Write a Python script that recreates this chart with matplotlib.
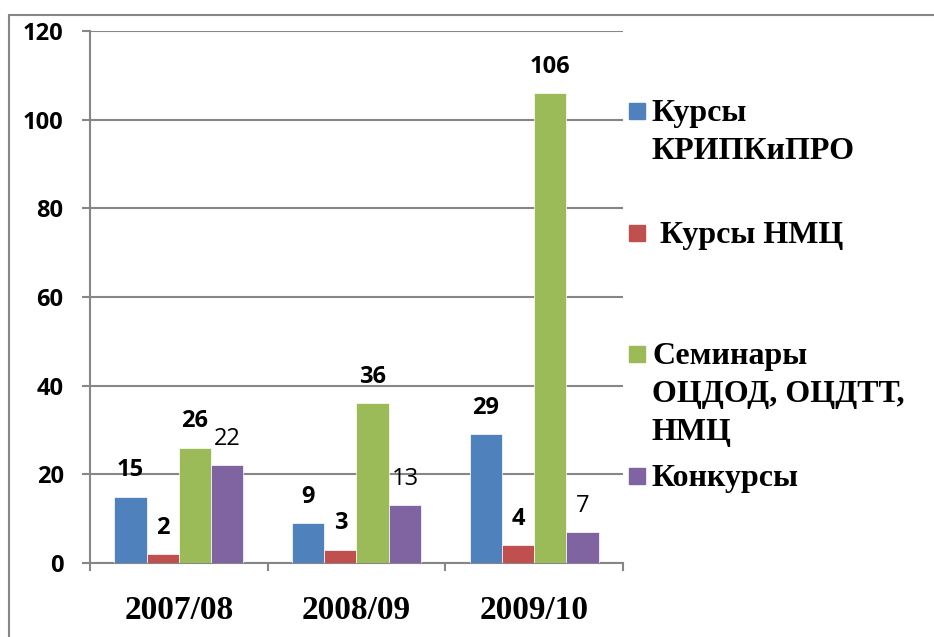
import matplotlib.pyplot as plt
from matplotlib.patches import Rectangle
import numpy as np

# данные
years = ['2007/08', '2008/09', '2009/10']
kursy_kripkipro = [15, 9, 29]
kursy_nmc = [2, 3, 4]
seminary = [26, 36, 106]
konkursy = [22, 13, 7]

series = [kursy_kripkipro, kursy_nmc, seminary, konkursy]
labels = ['Курсы\nКРИПКиПРО', ' Курсы НМЦ', 'Семинары\nОЦДОД, ОЦДТТ,\nНМЦ', 'Конкурсы']
colors = ['#4F81BD', '#C0504D', '#9BBB59', '#8064A2']
label_weights = ['bold', 'bold', 'bold', 'normal']
yticks = [0, 20, 40, 60, 80, 100, 120]

W, H = 934, 637
fig = plt.figure(figsize=(W / 100, H / 100), dpi=100)
ax = fig.add_axes([90 / W, 1 - 563 / H, (623 - 90) / W, (563 - 31) / H])

grey = '#868686'
x = np.arange(len(years))
bw = 1 / 5.5
for i, vals in enumerate(series):
    pos = x + (i - 1.5) * bw
    bars = ax.bar(pos, vals, bw, color=colors[i], edgecolor='white', linewidth=0.5, zorder=3)
    for b, v in zip(bars, vals):
        ax.annotate(str(v), (b.get_x() + b.get_width() / 2, v), xytext=(0, 19),
                    textcoords='offset points', ha='center', va='center',
                    fontsize=17, fontweight=label_weights[i], family='Open Sans')

ax.set_xlim(-0.5, 2.5)
ax.set_ylim(0, 120)
ax.set_yticks(yticks)
ax.set_yticklabels([str(t) for t in yticks], fontsize=17, fontweight='bold', family='Open Sans')
ax.yaxis.grid(True, color=grey, linewidth=1.5, zorder=0)
ax.tick_params(axis='y', length=6, width=1.5, color=grey, pad=13)

ax.set_xticks([-0.5, 0.5, 1.5, 2.5])
ax.set_xticklabels([])
ax.set_xticks(x, minor=True)
ax.set_xticklabels(years, minor=True, fontsize=24, fontweight='bold', family='Liberation Serif')
ax.tick_params(axis='x', which='major', length=6, width=1.5, color=grey)
ax.tick_params(axis='x', which='minor', length=0, pad=23)

for s in ['top', 'right']:
    ax.spines[s].set_visible(False)
for s in ['left', 'bottom']:
    ax.spines[s].set_color(grey)
    ax.spines[s].set_linewidth(1.5)

# легенда
leg_y = [111, 233, 354, 476]
for i, lab in enumerate(labels):
    fig.patches.append(Rectangle((629 / W, 1 - (leg_y[i] + 8) / H), 16 / W, 16 / H,
                                 transform=fig.transFigure, color=colors[i]))
    fig.text(652 / W, 1 - (leg_y[i] - 12) / H, lab, ha='left', va='top',
             fontsize=23, fontweight='bold', family='Liberation Serif', linespacing=1.42)

# рамка
fig.patches.append(Rectangle((9 / W, -0.1), 1, 1 - 15 / H + 0.1, transform=fig.transFigure,
                             fill=False, edgecolor=grey, linewidth=1.5))

fig.savefig('out.png', dpi=100)
